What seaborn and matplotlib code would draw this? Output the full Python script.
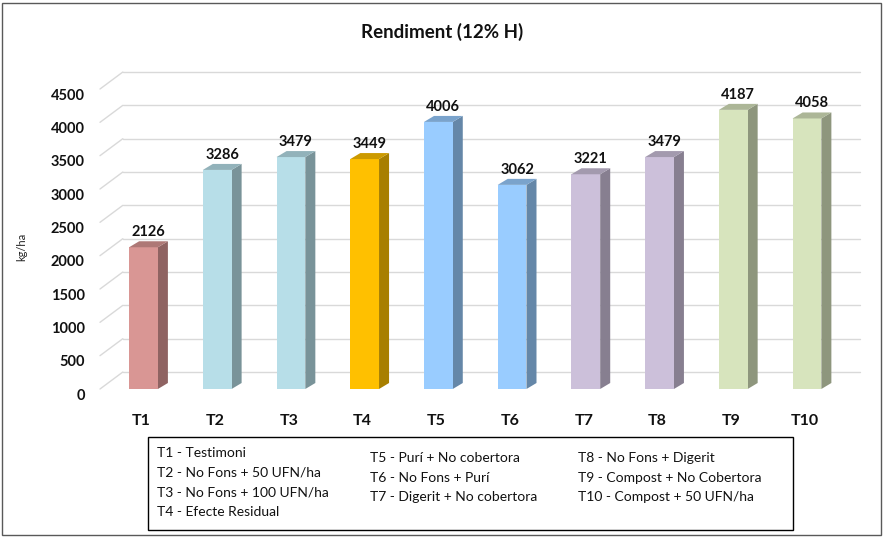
import matplotlib
matplotlib.use("Agg")
import matplotlib.pyplot as plt
import matplotlib.patches as mpatches
import matplotlib.transforms as mtransforms
import seaborn as sns
import pandas as pd

# Chart data
treatments = ["T1", "T2", "T3", "T4", "T5", "T6", "T7", "T8", "T9", "T10"]
yields = [2126, 3286, 3479, 3449, 4006, 3062, 3221, 3479, 4187, 4058]
bar_colors = ["#D99694", "#B7DEE8", "#B7DEE8", "#FFC000", "#99CCFF",
              "#99CCFF", "#CCC0DA", "#CCC0DA", "#D7E4BD", "#D7E4BD"]
y_ticks = [0, 500, 1000, 1500, 2000, 2500, 3000, 3500, 4000, 4500]
legend_cols = [
    ["T1 - Testimoni", "T2 - No Fons + 50 UFN/ha",
     "T3 - No Fons + 100 UFN/ha", "T4 - Efecte Residual"],
    ["T5 - Purí + No cobertora", "T6 - No Fons + Purí",
     "T7 - Digerit + No cobertora"],
    ["T8 - No Fons + Digerit", "T9 - Compost + No Cobertora",
     "T10 - Compost + 50 UFN/ha"],
]

df = pd.DataFrame({"treatment": treatments, "kg_ha": yields})

sns.set_style("white")
plt.rcParams["font.family"] = ["Lato", "DejaVu Sans"]

W, H = 884, 537
fig = plt.figure(figsize=(W / 100, H / 100), dpi=100)
ax = fig.add_axes([100 / W, (H - 389) / H, 763 / W, 320 / H])

sns.barplot(data=df, x="treatment", y="kg_ha", hue="treatment",
            palette=bar_colors, width=0.39, saturation=1, legend=False,
            linewidth=0, ax=ax, zorder=3)

ax.set_xlim(-0.59, 9.76)
ax.set_ylim(0, 4800)

# pseudo-3D depth (data units)
bdx, bdy = 0.136, 90       # bar depth
wdx, wdy = 0.31, 255       # back wall depth
x_left, x_right = ax.get_xlim()

grid_c = "#D9D9D9"
for v in y_ticks:
    ax.plot([x_left, x_left + wdx], [v, v + wdy], color=grid_c, lw=1,
            zorder=0, clip_on=False)
    ax.plot([x_left + wdx, x_right - 0.04], [v + wdy, v + wdy], color=grid_c,
            lw=1, zorder=0, clip_on=False)


def shade(c, f):
    r, g, b = matplotlib.colors.to_rgb(c)
    return (r * f, g * f, b * f)


for p, c in zip(ax.patches, bar_colors):
    x0, w, h = p.get_x(), p.get_width(), p.get_height()
    side = [(x0 + w, 0), (x0 + w + bdx, bdy), (x0 + w + bdx, h + bdy), (x0 + w, h)]
    top = [(x0, h), (x0 + bdx, h + bdy), (x0 + w + bdx, h + bdy), (x0 + w, h)]
    ax.add_patch(mpatches.Polygon(side, closed=True, color=shade(c, 0.66), lw=0, zorder=2))
    ax.add_patch(mpatches.Polygon(top, closed=True, color=shade(c, 0.8), lw=0, zorder=4))
    ax.annotate(f"{int(h)}", (x0 + (w + bdx) / 2, h + bdy), xytext=(0, 1.5),
                textcoords="offset points", ha="center", va="bottom",
                fontsize=10.5, fontweight="bold", color="#111111")

ax.set_yticks(y_ticks)
ax.set_yticklabels([str(v) for v in y_ticks], fontsize=10.5, fontweight="bold",
                   color="#111111")
ax.tick_params(axis="y", length=0, pad=11)
ax.tick_params(axis="x", length=0, pad=18)
for lbl in ax.get_yticklabels():
    lbl.set_transform(lbl.get_transform() +
                      mtransforms.ScaledTranslation(0, -5 / 100, fig.dpi_scale_trans))
for lbl in ax.get_xticklabels():
    lbl.set_fontsize(11.5)
    lbl.set_fontweight("bold")
    lbl.set_color("#111111")
    lbl.set_transform(lbl.get_transform() +
                      mtransforms.ScaledTranslation(-2 / 100, 0, fig.dpi_scale_trans))
ax.set_xlabel("")
ax.set_ylabel("")
sns.despine(ax=ax, left=True, bottom=True)
ax.grid(False)

fig.text(22 / W, 1 - 247 / H, "kg/ha", rotation=90, ha="center", va="center",
         fontsize=8)
fig.text(0.5, 1 - 32 / H, "Rendiment (12% H)", ha="center", va="center",
         fontsize=13.5, fontweight="bold", color="#111111")

# legend box
fig.add_artist(mpatches.Rectangle((148 / W, 1 - 530 / H), (793 - 148) / W, 93 / H,
                                  transform=fig.transFigure, fill=False,
                                  edgecolor="#000000", lw=1))
col_x = [157, 370, 578]
col_y0 = [453, 458, 458]
for cx, cy, items in zip(col_x, col_y0, legend_cols):
    for i, t in enumerate(items):
        fig.text(cx / W, 1 - (cy + i * 19.7) / H, t, ha="left", va="center",
                 fontsize=10, color="#111111")

# outer chart border
fig.add_artist(mpatches.Rectangle((2 / W, 2 / H), (W - 5) / W, (H - 5) / H,
                                  transform=fig.transFigure, fill=False,
                                  edgecolor="#595959", lw=1))

fig.savefig("out.png", dpi=100)
